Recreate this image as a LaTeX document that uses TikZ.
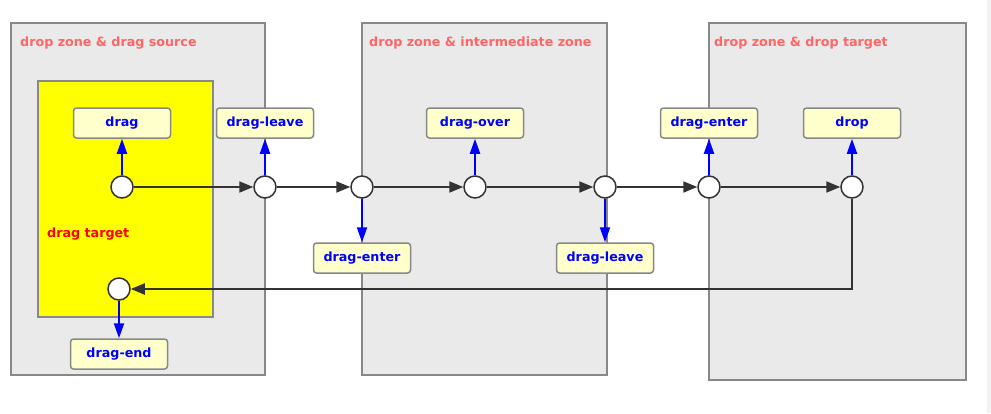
\documentclass[tikz,border=0pt]{standalone}
\usepackage{fontspec}
\setmainfont{DejaVu Sans}
\usetikzlibrary{arrows.meta}
\definecolor{zonefill}{HTML}{EAEAEA}
\definecolor{zoneline}{HTML}{888888}
\definecolor{zonetext}{HTML}{FF6666}
\definecolor{evfill}{HTML}{FFFFCC}
\definecolor{flow}{HTML}{333333}
\definecolor{strip}{HTML}{F2F2F2}
\definecolor{ylw}{HTML}{FFFF00}
\tikzset{
  x=1pt,y=-1pt,
  zone/.style={draw=zoneline,fill=zonefill,line width=1.5pt},
  zonelabel/.style={anchor=base west,inner sep=0pt,text=zonetext,font=\fontsize{12.7}{13}\selectfont\bfseries},
  evbox/.style={draw=zoneline,fill=evfill,line width=1.5pt,rounded corners=3pt,minimum width=97pt,minimum height=30pt,inner sep=0pt,text=blue,font=\fontsize{12.7}{13}\selectfont\bfseries},
  evtext/.style={inner sep=0pt,text=blue,font=\fontsize{12.7}{13}\selectfont\bfseries},
  state/.style={circle,draw=flow,fill=white,line width=1.5pt,minimum size=22pt,inner sep=0pt},
  flowarrow/.style={draw=flow,line width=2pt,-{Triangle[length=14pt,width=11pt]}},
  evarrow/.style={draw=blue,line width=2pt,-{Triangle[length=15pt,width=10pt]}}
}
\begin{document}
\begin{tikzpicture}
\useasboundingbox (0,0) rectangle (991,413);
\fill[white] (0,0) rectangle (991,413);
\fill[strip] (987,0) rectangle (991,413);
% zones
\draw[zone] (11,23) rectangle (265,375);
\draw[zone] (362,23) rectangle (607,375);
\draw[zone] (709,23) rectangle (966,380);
\draw[zoneline,fill=ylw,line width=1.5pt] (38,81) rectangle (213,317);
\node[zonelabel] (z1) at (20,46) {drop zone \& drag source};
\node[zonelabel] (z2) at (369,46) {drop zone \& intermediate zone};
\node[zonelabel] (z3) at (714,46) {drop zone \& drop target};
\node[zonelabel,text=red] (dt) at (47,237) {drag target};
% event boxes
\node[evbox] (drag) at (122,123) {\raisebox{-1pt}{drag}};
\node[evbox] (leave1) at (265,123) {\raisebox{-1pt}{drag-leave}};
\node[evbox] (over) at (475,123) {\raisebox{-1pt}{drag-over}};
\node[evbox] (enter2) at (709,123) {\raisebox{-1pt}{drag-enter}};
\node[evbox] (drop) at (852,123) {\raisebox{-1pt}{drop}};
\node[evbox] (enter1) at (362,258) {\raisebox{-1pt}{drag-enter}};
\node[evbox] (leave2) at (605,258) {\raisebox{-1pt}{drag-leave}};
\node[evbox] (end) at (119,354) {\raisebox{-1pt}{drag-end}};
% states
\node[state] (c1) at (122,187) {};
\node[state] (c2) at (265,187) {};
\node[state] (c3) at (362,187) {};
\node[state] (c4) at (475,187) {};
\node[state] (c5) at (605,187) {};
\node[state] (c6) at (709,187) {};
\node[state] (c7) at (852,187) {};
\node[state] (c8) at (119,289) {};
% flow
\draw[flowarrow] (c1) -- (c2);
\draw[flowarrow] (c2) -- (c3);
\draw[flowarrow] (c3) -- (c4);
\draw[flowarrow] (c4) -- (c5);
\draw[flowarrow] (c5) -- (c6);
\draw[flowarrow] (c6) -- (c7);
\draw[flowarrow] (c7.south) |- (c8.east);
% events
\draw[evarrow] (c1) -- (drag);
\draw[evarrow] (c2) -- (leave1);
\draw[evarrow] (c4) -- (over);
\draw[evarrow] (c6) -- (enter2);
\draw[evarrow] (c7) -- (drop);
\draw[evarrow] (c3) -- (enter1);
\draw[evarrow] (c5) -- (leave2);
\draw[evarrow] (c8) -- (end);
\end{tikzpicture}
\end{document}
